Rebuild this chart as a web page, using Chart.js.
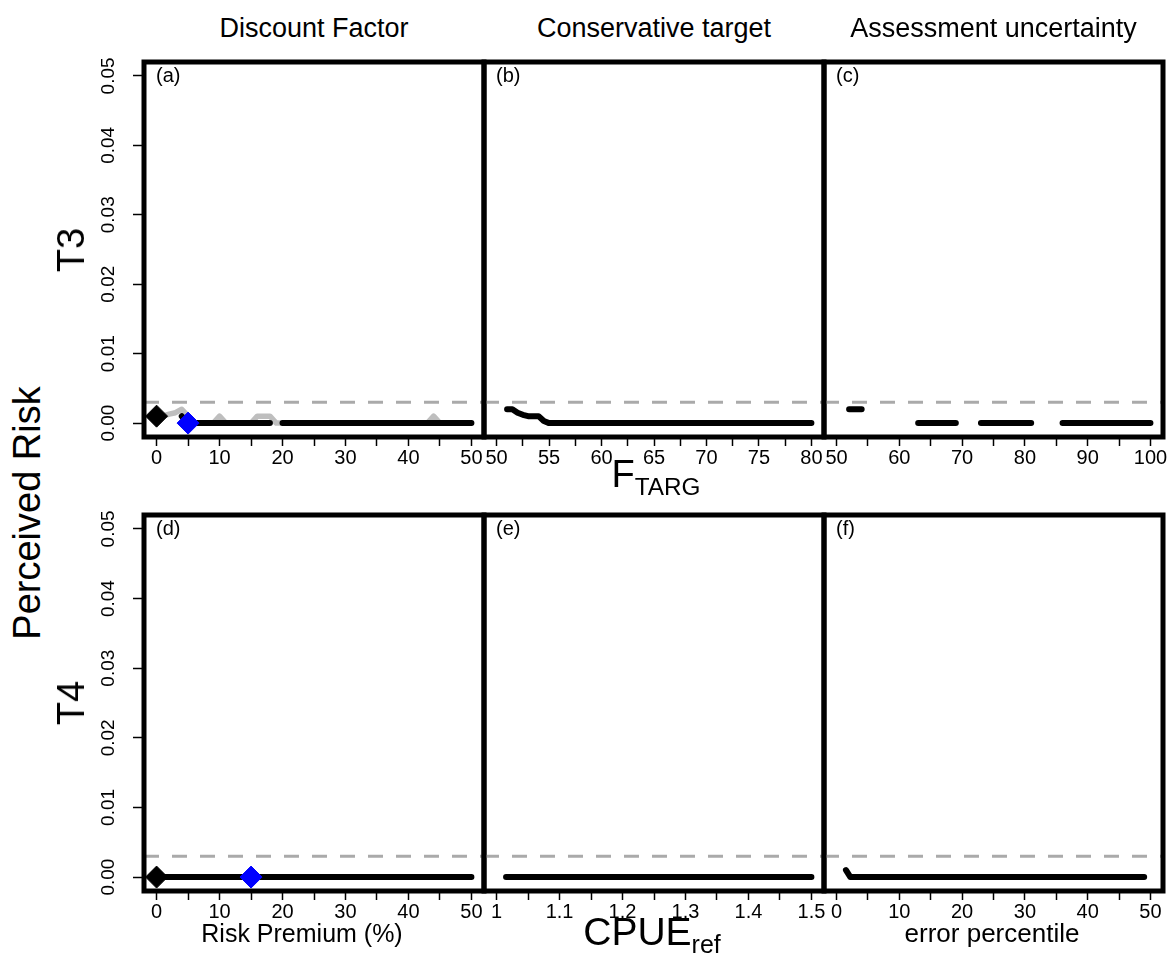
<!DOCTYPE html>
<html><head><meta charset="utf-8">
<script src="https://cdn.jsdelivr.net/npm/chart.js@4.4.1/dist/chart.umd.min.js"></script>
<style>
html,body{margin:0;padding:0;background:#fff;}
body{width:1167px;height:961px;overflow:hidden;position:relative;font-family:"Liberation Sans",Arial,Helvetica,sans-serif;color:#000;}
.pc{position:absolute;}
.t{position:absolute;white-space:nowrap;line-height:1;transform:translate(-50%,-50%);}
.rot{transform:translate(-50%,-50%) rotate(-90deg);}
.tag{position:absolute;line-height:1;font-size:20px;white-space:nowrap;}
.sub{position:relative;font-size:0.64em;top:0.32em;}
</style></head><body>
<script>
// ================= DATA =================
const colTitles = ['Discount Factor', 'Conservative target', 'Assessment uncertainty'];
const rowLabels = ['T3', 'T4'];
const yTitle = 'Perceived Risk';
const panelTags = ['(a)', '(b)', '(c)', '(d)', '(e)', '(f)'];
const yTicks = [0, 0.01, 0.02, 0.03, 0.04, 0.05];
const yTickLabels = ['0.00', '0.01', '0.02', '0.03', '0.04', '0.05'];
const riskThreshold = 0.003;

// x tick marks and labelled ticks
const premTicks = [0, 5, 10, 15, 20, 25, 30, 35, 40, 45, 50];
const premLabels = [0, 10, 20, 30, 40, 50];
const ftargTicks = [50, 52.5, 55, 57.5, 60, 62.5, 65, 67.5, 70, 72.5, 75, 77.5, 80];
const ftargLabels = [50, 55, 60, 65, 70, 75, 80];
const errTicks = [50, 55, 60, 65, 70, 75, 80, 85, 90, 95, 100];
const errLabels = [50, 60, 70, 80, 90, 100];
const cpueTicks = [1, 1.05, 1.1, 1.15, 1.2, 1.25, 1.3, 1.35, 1.4, 1.45, 1.5];
const cpueLabels = [1, 1.1, 1.2, 1.3, 1.4, 1.5];
const cpueLabelText = ['1', '1.1', '1.2', '1.3', '1.4', '1.5'];
const pctTicks = [0, 5, 10, 15, 20, 25, 30, 35, 40, 45, 50];
const pctLabels = [0, 10, 20, 30, 40, 50];

// (a) T3 - Discount factor
const aX = [0,1,2,3,4,5,6,7,8,9,10,11,12,13,14,15,16,17,18,19,20,21,22,23,24,25,26,27,28,29,30,31,32,33,34,35,36,37,38,39,40,41,42,43,44,45,46,47,48,49,50];
const aGrey = [0.001,0.001,0.0013,0.0015,0.002,0.001,0,0,0,0,0.001,0,0,0,0,0,0.001,0.001,0.001,0,
  0,0,0,0,0,0,0,0,0,0,0,0,0,0,0,0,0,0,0,0,0,0,0,0,0.001,0,0,0,0,0,0];
const aBlack = [null,null,null,null,0.001,0,0,0,0,0,0,0,0,0,0,0,0,0,0,null,
  0,0,0,0,0,0,0,0,0,0,0,0,0,0,0,0,0,0,0,0,0,0,0,0,0,0,0,0,0,0,0];
const aRefX = [0], aRefY = [0.001];
const aSelX = [5], aSelY = [0];

// (b) T3 - Conservative target
const bX = [51,51.5,52,52.5,53,53.5,54,54.5,55,56,57,58,59,60,61,62,63,64,65,66,67,68,69,70,71,72,73,74,75,76,77,78,79,80];
const bY = [0.002,0.002,0.0015,0.0012,0.001,0.001,0.001,0.0003,0,0,0,0,0,0,0,0,0,0,0,0,0,0,0,0,0,0,0,0,0,0,0,0,0,0];

// (c) T3 - Assessment uncertainty
const cX = [50,51,52,53,54,55,56,57,58,59,60,61,62,63,64,65,66,67,68,69,70,71,72,73,74,75,76,77,78,79,80,81,82,83,84,85,86,87,88,89,90,91,92,93,94,95,96,97,98,99,100];
const cY = [null,null,0.002,0.002,0.002,null,null,null,null,null,null,null,null,0,0,0,0,0,0,0,null,null,null,0,0,0,0,0,0,0,0,0,null,null,null,null,0,0,0,0,0,0,0,0,0,0,0,0,0,0,0];

// (d) T4 - Risk premium
const dX = [0,5,10,15,20,25,30,35,40,45,50];
const dY = [0,0,0,0,0,0,0,0,0,0,0];
const dRefX = [0], dRefY = [0];
const dSelX = [15], dSelY = [0];

// (e) T4 - CPUE ref
const eX = [1.015,1.05,1.1,1.15,1.2,1.25,1.3,1.35,1.4,1.45,1.5];
const eY = [0,0,0,0,0,0,0,0,0,0,0];

// (f) T4 - error percentile
const fX = [1.5,2.2,5,10,15,20,25,30,35,40,45,49];
const fY = [0.001,0,0,0,0,0,0,0,0,0,0,0];

// ================= LAYOUT / STYLE =================
const FONT = '"Liberation Sans", Arial, Helvetica, sans-serif';
const PADL = 60, PADR = 60, PADT = 12, PADB = 45;
const colLeft = [144, 484, 824], colW = [340, 340, 339];
const rowTop = [62, 515], rowH = [375, 376];
const yMin = -0.002, yMax = 0.052;

function pts(xs, ys) { return xs.map((x, i) => ({x: x, y: ys[i]})); }
function lineDs(xs, ys, color, w) {
  return {data: pts(xs, ys), showLine: true, borderColor: color, backgroundColor: color,
    borderWidth: w, pointRadius: 0, pointHoverRadius: 0, borderCapStyle: 'round',
    borderJoinStyle: 'round', spanGaps: false, tension: 0};
}
function markDs(xs, ys, color) {
  return {data: pts(xs, ys), showLine: false, pointStyle: 'rectRot', pointRadius: 11,
    pointHoverRadius: 11, pointBorderWidth: 1, pointBackgroundColor: color,
    pointBorderColor: color, borderColor: color, backgroundColor: color};
}

const panelPlugin = {
  id: 'panelDeco',
  beforeDatasetsDraw(chart) {
    const ctx = chart.ctx, a = chart.chartArea, y = chart.scales.y.getPixelForValue(riskThreshold);
    ctx.save();
    ctx.strokeStyle = '#aaaaaa'; ctx.lineWidth = 3; ctx.setLineDash([15, 13]); ctx.lineCap = 'butt';
    ctx.beginPath(); ctx.moveTo(a.left, y); ctx.lineTo(a.right, y); ctx.stroke();
    ctx.restore();
  },
  afterDatasetsDraw(chart, args, opts) {
    const ctx = chart.ctx, a = chart.chartArea;
    ctx.save();
    ctx.strokeStyle = '#000'; ctx.lineWidth = 5; ctx.setLineDash([]);
    ctx.strokeRect(a.left, a.top, a.right - a.left, a.bottom - a.top);
    if (opts.yLabels) {
      const ys = chart.scales.y;
      ctx.fillStyle = '#000'; ctx.font = '19px ' + FONT;
      ctx.textAlign = 'center'; ctx.textBaseline = 'middle';
      yTicks.forEach((v, i) => {
        ctx.save();
        ctx.translate(a.left - 35, ys.getPixelForValue(v));
        ctx.rotate(-Math.PI / 2);
        ctx.fillText(yTickLabels[i], 0, 0);
        ctx.restore();
      });
    }
    ctx.restore();
  }
};

function makePanel(col, row, cfg) {
  const left = colLeft[col], top = rowTop[row], w = colW[col], h = rowH[row];
  const W = w + PADL + PADR, H = h + PADT + PADB;
  const div = document.createElement('div');
  div.className = 'pc';
  div.style.left = (left - PADL) + 'px'; div.style.top = (top - PADT) + 'px';
  div.style.width = W + 'px'; div.style.height = H + 'px';
  const cv = document.createElement('canvas');
  cv.width = W; cv.height = H; cv.style.width = W + 'px'; cv.style.height = H + 'px';
  div.appendChild(cv); document.body.appendChild(div);
  const hasY = col === 0;
  new Chart(cv, {
    type: 'scatter',
    data: {datasets: cfg.datasets},
    plugins: [panelPlugin],
    options: {
      responsive: false, maintainAspectRatio: false, animation: false, events: [],
      layout: {autoPadding: false, padding: {left: PADL, right: PADR, top: PADT, bottom: 0}},
      plugins: {legend: {display: false}, tooltip: {enabled: false}, panelDeco: {yLabels: hasY}},
      scales: {
        x: {
          type: 'linear', min: cfg.xmin, max: cfg.xmax,
          afterFit: s => { s.height = PADB; },
          afterBuildTicks: s => { s.ticks = cfg.tickVals.map(v => ({value: v})); },
          ticks: {
            autoSkip: false, maxRotation: 0, minRotation: 0, padding: 0, color: '#000',
            font: {family: FONT, size: 20},
            callback: function (value) {
              const i = cfg.labelVals.findIndex(v => Math.abs(v - value) < 1e-9);
              return i >= 0 ? cfg.labelText[i] : '';
            }
          },
          grid: {drawOnChartArea: false, drawTicks: true, tickLength: 9, tickWidth: 1.5, tickColor: '#000'},
          border: {display: false}
        },
        y: {
          type: 'linear', min: yMin, max: yMax, display: hasY,
          afterFit: s => { s.width = 0; },
          afterBuildTicks: s => { s.ticks = yTicks.map(v => ({value: v})); },
          ticks: {display: false},
          grid: {drawOnChartArea: false, drawTicks: true, tickLength: 11, tickWidth: 1.5, tickColor: '#000'},
          border: {display: false}
        }
      }
    }
  });
  const tag = document.createElement('div');
  tag.className = 'tag';
  tag.textContent = panelTags[row * 3 + col];
  tag.style.left = (left + 12) + 'px';
  tag.style.top = (top + 3) + 'px';
  document.body.appendChild(tag);
}

const strLabels = arr => arr.map(v => String(v));

makePanel(0, 0, {xmin: -2, xmax: 52, tickVals: premTicks, labelVals: premLabels, labelText: strLabels(premLabels),
  datasets: [markDs(aSelX, aSelY, '#0000ff'), markDs(aRefX, aRefY, '#000000'),
    lineDs(aX, aBlack, '#000000', 6), lineDs(aX, aGrey, '#bebebe', 5.5)]});
makePanel(1, 0, {xmin: 48.8, xmax: 81.2, tickVals: ftargTicks, labelVals: ftargLabels, labelText: strLabels(ftargLabels),
  datasets: [lineDs(bX, bY, '#000000', 6)]});
makePanel(2, 0, {xmin: 48, xmax: 102, tickVals: errTicks, labelVals: errLabels, labelText: strLabels(errLabels),
  datasets: [lineDs(cX, cY, '#000000', 6)]});
makePanel(0, 1, {xmin: -2, xmax: 52, tickVals: premTicks, labelVals: premLabels, labelText: strLabels(premLabels),
  datasets: [markDs(dSelX, dSelY, '#0000ff'), markDs(dRefX, dRefY, '#000000'), lineDs(dX, dY, '#000000', 6)]});
makePanel(1, 1, {xmin: 0.98, xmax: 1.52, tickVals: cpueTicks, labelVals: cpueLabels, labelText: cpueLabelText,
  datasets: [lineDs(eX, eY, '#000000', 6)]});
makePanel(2, 1, {xmin: -2, xmax: 52, tickVals: pctTicks, labelVals: pctLabels, labelText: strLabels(pctLabels),
  datasets: [lineDs(fX, fY, '#000000', 6)]});

// ================= TEXT =================
function addText(html, x, y, size, rot) {
  const d = document.createElement('div');
  d.className = 't' + (rot ? ' rot' : '');
  d.innerHTML = html;
  d.style.left = x + 'px'; d.style.top = y + 'px'; d.style.fontSize = size + 'px';
  document.body.appendChild(d);
}
colTitles.forEach((t, i) => addText(t, colLeft[i] + colW[i] / 2, 28, 27, false));
addText(rowLabels[0], 71, rowTop[0] + rowH[0] / 2, 38, true);
addText(rowLabels[1], 71, rowTop[1] + rowH[1] / 2, 38, true);
addText(yTitle, 27, 513, 38, true);
addText('F<span class="sub">TARG</span>', 656, 474, 38, false);
addText('CPUE<span class="sub">ref</span>', 652, 931, 39, false);
addText('Risk Premium (%)', 302, 933, 25, false);
addText('error percentile', 992, 933, 26, false);
</script>
</body></html>
